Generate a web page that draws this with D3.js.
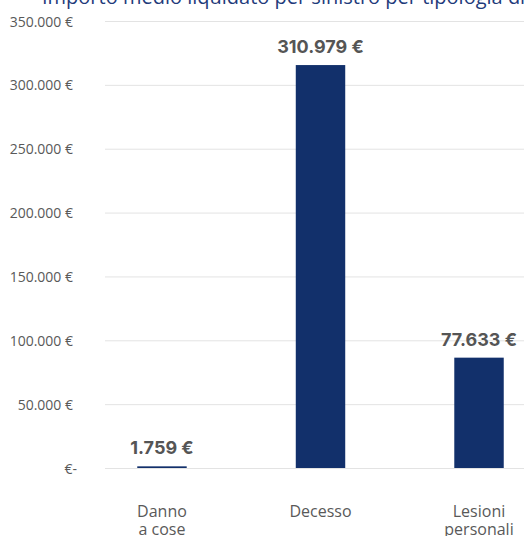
<!DOCTYPE html>
<html>
<head>
<meta charset="utf-8">
<script src="https://cdn.jsdelivr.net/npm/d3@7"></script>
<style>
  body { margin: 0; background: #fff; }
  .yAxis text { font-family: "Open Sans", sans-serif; font-size: 14px; fill: #595959; }
  .xLabel { font-family: "Open Sans", sans-serif; font-size: 16px; fill: #595959; }
  .valueLabel { font-family: Inter, sans-serif; font-size: 18px; font-weight: 700; fill: #555; }
  .title { font-family: "Open Sans", sans-serif; font-size: 20px; fill: #1f3b7b; }
</style>
</head>
<body>
<div id="chart"></div>
<script>
const categories = ["Danno a cose", "Decesso", "Lesioni personali"];
// bar heights as they appear on the picture
const barValues = [1300, 315500, 86400];
// printed labels above the bars
const valueLabels = ["1.759 €", "310.979 €", "77.633 €"];
const yTicks = [0, 50000, 100000, 150000, 200000, 250000, 300000, 350000];
const title = "Importo medio liquidato per sinistro per tipologia di danno";

const width = 524;
const height = 536;
const margin = { top: 21, right: -12, bottom: 68, left: 105 };

const svg = d3
  .select("#chart")
  .append("svg")
  .attr("width", width)
  .attr("height", height);

// title sits mostly above the top edge, only its lower part shows
svg
  .append("text")
  .attr("class", "title")
  .attr("x", 42)
  .attr("y", 4)
  .text(title);

const x = d3
  .scaleBand()
  .domain(categories)
  .range([margin.left, width - margin.right])
  .paddingInner(0.688)
  .paddingOuter(0.2035);

const y = d3
  .scaleLinear()
  .domain([0, 350000])
  .range([height - margin.bottom, margin.top]);

const fmt = (d) =>
  d === 0 ? "€-" : d3.format(",")(d).replace(/,/g, ".") + " €";

const yAxis = d3
  .axisLeft(y)
  .tickValues(yTicks)
  .tickSize(-(width - margin.right - margin.left))
  .tickFormat(fmt);

const gy = svg
  .append("g")
  .attr("class", "yAxis")
  .attr("transform", `translate(${margin.left},0)`)
  .call(yAxis);

gy.select(".domain").remove();
gy.selectAll(".tick line").attr("stroke", "#e3e3e3").attr("stroke-width", 1);
gy.selectAll(".tick text")
  .attr("x", -32)
  .attr("dx", (d) => (d === 0 ? 4 : 0))
  .attr("dy", "0.36em");

svg
  .append("g")
  .attr("class", "bars")
  .selectAll("rect")
  .data(categories)
  .join("rect")
  .attr("x", (d) => x(d))
  .attr("width", x.bandwidth())
  .attr("y", (d, i) => y(barValues[i]))
  .attr("height", (d, i) => y(0) - y(barValues[i]))
  .attr("fill", "#12306b");

svg
  .append("g")
  .selectAll("text")
  .data(categories)
  .join("text")
  .attr("class", "valueLabel")
  .attr("text-anchor", "middle")
  .attr("x", (d) => x(d) + x.bandwidth() / 2)
  .attr("y", (d, i) => y(barValues[i]) - 12)
  .text((d, i) => valueLabels[i]);

const xl = svg
  .append("g")
  .selectAll("text")
  .data(categories)
  .join("text")
  .attr("class", "xLabel")
  .attr("text-anchor", "middle")
  .attr("x", (d) => x(d) + x.bandwidth() / 2)
  .attr("y", 517);

xl.each(function (d) {
  const k = d.indexOf(" ");
  const lines = k < 0 ? [d] : [d.slice(0, k), d.slice(k + 1)];
  const cx = x(d) + x.bandwidth() / 2;
  d3.select(this)
    .selectAll("tspan")
    .data(lines)
    .join("tspan")
    .attr("x", cx)
    .attr("dy", (l, i) => (i === 0 ? 0 : 18))
    .text((l) => l);
});
</script>
</body>
</html>
